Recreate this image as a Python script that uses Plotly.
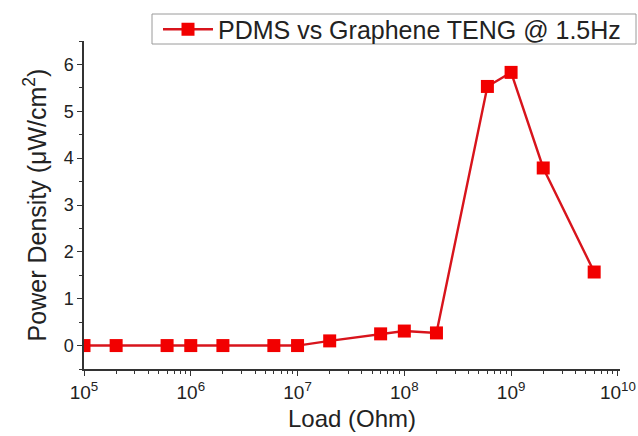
import plotly.graph_objects as go

# Load resistance sweep (Ohm) and measured power density (uW/cm^2)
load_ohm = [1e5, 2e5, 6e5, 1e6, 2e6, 6e6, 1e7, 2e7, 6e7, 1e8, 2e8, 6e8, 1e9, 2e9, 6e9]
power_density = [0, 0, 0, 0, 0, 0, 0, 0.1, 0.25, 0.31, 0.27, 5.53, 5.83, 3.79, 1.57]

series_name = "PDMS vs Graphene TENG @ 1.5Hz"
x_tick_vals = [1e5, 1e6, 1e7, 1e8, 1e9, 1e10]
x_tick_text = ["10<sup>5</sup>", "10<sup>6</sup>", "10<sup>7</sup>",
               "10<sup>8</sup>", "10<sup>9</sup>", "10<sup>10</sup>"]
y_tick_vals = [0, 1, 2, 3, 4, 5, 6]

FONT = "Liberation Sans, Arial, sans-serif"
AXIS_COLOR = "#333333"
TEXT_COLOR = "#222222"

W, H = 638, 436
M_L, M_R, M_T, M_B = 84, 18, 41, 67
PLOT_W = W - M_L - M_R
PLOT_H = H - M_T - M_B


def px_to_paper_x(px):
    return (px - M_L) / PLOT_W


def px_to_paper_y(py):
    return (H - M_B - py) / PLOT_H


fig = go.Figure()
fig.add_trace(go.Scatter(
    x=load_ohm, y=power_density, name=series_name,
    mode="lines+markers",
    line=dict(color="#d8141c", width=2.4),
    marker=dict(symbol="square", size=13, color="#f20000",
                line=dict(width=0)),
    showlegend=True,
))

# Frame around the legend entry
fig.add_shape(
    type="rect", xref="paper", yref="paper",
    x0=px_to_paper_x(152), x1=px_to_paper_x(636),
    y0=px_to_paper_y(44), y1=px_to_paper_y(14),
    line=dict(color="#9a9a9a", width=1), fillcolor="rgba(0,0,0,0)",
)

fig.update_layout(
    width=W, height=H,
    margin=dict(l=M_L, r=M_R, t=M_T, b=M_B, autoexpand=False),
    paper_bgcolor="white", plot_bgcolor="white",
    font=dict(family=FONT, color=TEXT_COLOR),
    showlegend=True,
    legend=dict(
        x=px_to_paper_x(158), xanchor="left",
        y=px_to_paper_y(29.5), yanchor="middle",
        bgcolor="rgba(0,0,0,0)", borderwidth=0,
        font=dict(size=25, family=FONT, color=TEXT_COLOR),
        itemwidth=50, tracegroupgap=0,
    ),
    xaxis=dict(
        type="log", range=[5, 10.02],
        tickvals=x_tick_vals, ticktext=x_tick_text,
        tickfont=dict(size=19, family=FONT, color=TEXT_COLOR),
        ticks="outside", ticklen=5, tickwidth=1.2, tickcolor=AXIS_COLOR,
        minor=dict(ticks="outside", ticklen=3, tickwidth=1, tickcolor=AXIS_COLOR,
                   dtick="D1"),
        showline=True, linecolor=AXIS_COLOR, linewidth=1.5,
        showgrid=False, zeroline=False,
        title=dict(text="Load (Ohm)", font=dict(size=24, family=FONT, color=TEXT_COLOR),
                   standoff=9),
    ),
    yaxis=dict(
        range=[-0.5, 6.5],
        tickvals=y_tick_vals,
        tickfont=dict(size=18, family=FONT, color=TEXT_COLOR),
        ticks="outside", ticklen=5, tickwidth=1.2, tickcolor=AXIS_COLOR,
        minor=dict(ticks="outside", ticklen=3, tickwidth=1, tickcolor=AXIS_COLOR,
                   tick0=0.5, dtick=1),
        showline=True, linecolor=AXIS_COLOR, linewidth=1.5,
        showgrid=False, zeroline=False,
        title=dict(text="Power Density (\u03bcW/cm<sup>2</sup>)",
                   font=dict(size=25, family=FONT, color=TEXT_COLOR),
                   standoff=10),
    ),
)

fig.write_html("out.html")
